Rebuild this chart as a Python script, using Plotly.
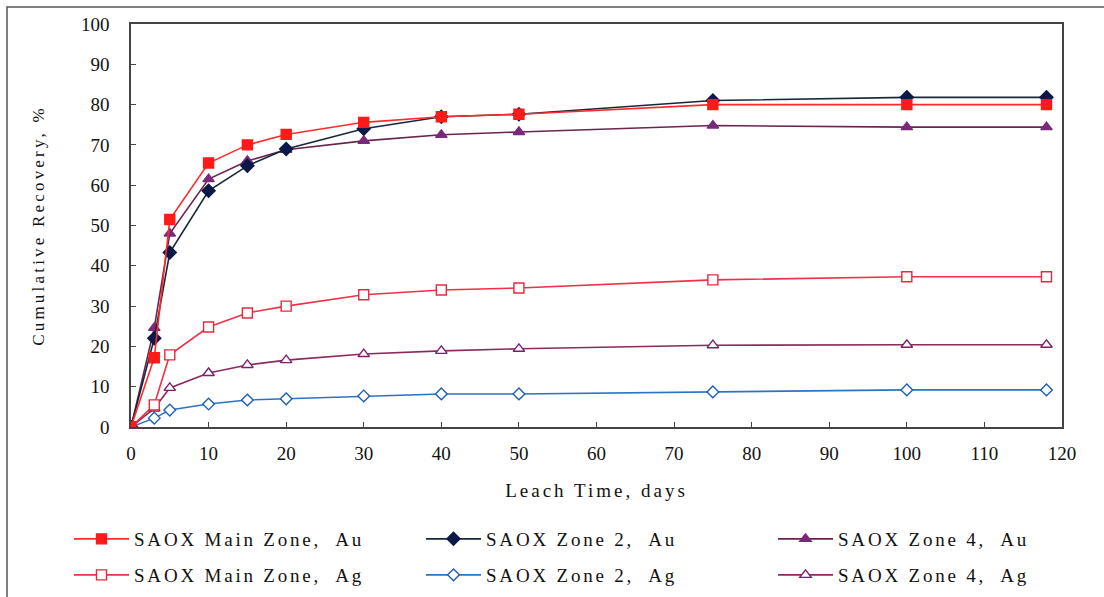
import plotly.graph_objects as go

days = [0, 3, 5, 10, 15, 20, 30, 40, 50, 75, 100, 118]

main_au = [0, 17.2, 51.5, 65.5, 70.0, 72.6, 75.6, 77.0, 77.6, 80.0, 80.0, 80.0]
zone2_au = [0, 22.0, 43.3, 58.6, 64.8, 69.0, 74.0, 77.0, 77.6, 81.0, 81.8, 81.8]
zone4_au = [0, 24.6, 48.0, 61.5, 66.0, 68.8, 71.0, 72.5, 73.2, 74.8, 74.4, 74.4]
main_ag = [0, 5.5, 17.9, 24.8, 28.3, 30.0, 32.8, 34.0, 34.5, 36.5, 37.3, 37.3]
zone2_ag = [0, 2.2, 4.2, 5.7, 6.7, 7.0, 7.7, 8.2, 8.2, 8.7, 9.2, 9.2]
zone4_ag = [0, 4.6, 9.7, 13.4, 15.4, 16.6, 18.1, 18.9, 19.4, 20.3, 20.4, 20.4]

names = ["SAOX Main Zone,  Au", "SAOX Zone 2,  Au", "SAOX Zone 4,  Au",
         "SAOX Main Zone,  Ag", "SAOX Zone 2,  Ag", "SAOX Zone 4,  Ag"]
x_ticks = list(range(0, 121, 10))
y_ticks = list(range(0, 101, 10))

FONT = "Liberation Serif"

fig = go.Figure()

def add(y, name, line_color, symbol, mcolor, mfill, size, legend, lw=None):
    fig.add_trace(go.Scatter(
        x=days, y=y, name=name, mode="lines+markers",
        line=dict(color=line_color, width=1.6),
        marker=dict(symbol=symbol, size=size, color=mfill,
                    line=dict(color=mcolor, width=1.4)),
        legend=legend, legendwidth=lw,
    ))

add(zone4_ag, names[5], "#8c2a5c", "triangle-up", "#7e1f6e", "white", 10, "legend2", 215)
add(zone2_ag, names[4], "#2a74c6", "diamond", "#1f5fb4", "white", 9, "legend2")
add(main_ag, names[3], "#f03048", "square", "#e8283c", "white", 10, "legend2")
add(zone4_au, names[2], "#6a2450", "triangle-up", "#7a2a7a", "#7a2a7a", 10, "legend", 215)
add(zone2_au, names[1], "#15283a", "diamond", "#0c1848", "#0c1848", 10, "legend")
add(main_au, names[0], "#ff2a2a", "square", "#ff1a1a", "#ff1a1a", 10, "legend")

L, R, T, B = 131, 1062, 24, 427
W, H = 1104, 597
pw, ph = R - L, B - T

def px_x(p):
    return (p - L) / pw

def px_y(p):
    return (B - p) / ph

legend_common = dict(
    orientation="h", xanchor="left", yanchor="middle",
    font=dict(family=FONT, size=19, color="#111"),
    itemwidth=55, entrywidth=282, bgcolor="rgba(0,0,0,0)",
    traceorder="reversed",
)

fig.update_layout(
    width=W, height=H,
    margin=dict(l=L, r=W - R, t=T, b=H - B, autoexpand=False),
    paper_bgcolor="white", plot_bgcolor="white",
    font=dict(family=FONT, size=19, color="#111"),
    showlegend=True,
    legend=dict(x=px_x(69), y=px_y(539), **legend_common),
    legend2=dict(x=px_x(69), y=px_y(575), **legend_common),
    xaxis=dict(
        range=[0, 120], tickvals=x_ticks, ticktext=[str(v) for v in x_ticks],
        showgrid=False, zeroline=False,
        showline=True, linecolor="#444", linewidth=1.5, mirror=True,
        ticks="inside", ticklen=5, tickcolor="#444",
        tickfont=dict(family=FONT, size=19, color="#111"),
        ticklabelstandoff=8,
        title=dict(text="Leach Time, days", font=dict(family=FONT, size=19, color="#111"),
                   standoff=21),
    ),
    yaxis=dict(
        range=[0, 100], tickvals=y_ticks, ticktext=[str(v) for v in y_ticks],
        showgrid=False, zeroline=False,
        showline=True, linecolor="#444", linewidth=1.5, mirror=True,
        ticks="inside", ticklen=5, tickcolor="#444",
        tickfont=dict(family=FONT, size=19, color="#111"),
        ticklabelstandoff=16,
        title=dict(text="Cumulative Recovery, %", font=dict(family=FONT, size=17, color="#111"),
                   standoff=32),
    ),
    shapes=[dict(type="rect", xref="paper", yref="paper",
                 x0=px_x(7), x1=px_x(1110), y0=px_y(610), y1=px_y(7),
                 line=dict(color="#555", width=1.5), fillcolor="rgba(0,0,0,0)",
                 layer="below")],
)

post = """
var st = document.createElement('style');
st.textContent = 'text.legendtext, g[class^="legend"] text{letter-spacing:2.8px !important; white-space:pre;}' +
                 'text.xtitle{letter-spacing:3px !important;}' +
                 'text.ytitle{letter-spacing:3.2px !important;}';
document.head.appendChild(st);
var gd = document.getElementById('{plot_id}');
function spacing(){
  gd.querySelectorAll('text').forEach(function(t){
    var c = t.getAttribute('class') || '';
    var p = t.closest('g[class^="legend"]');
    if (c.indexOf('legendtext') >= 0 || p) {
      t.style.letterSpacing = '2.8px';
      t.setAttribute('xml:space', 'preserve');
    }
  });
}
spacing();
setTimeout(spacing, 50);
setTimeout(spacing, 300);
if (gd.on) gd.on('plotly_afterplot', spacing);
"""

fig.write_html("out.html", post_script=post)
